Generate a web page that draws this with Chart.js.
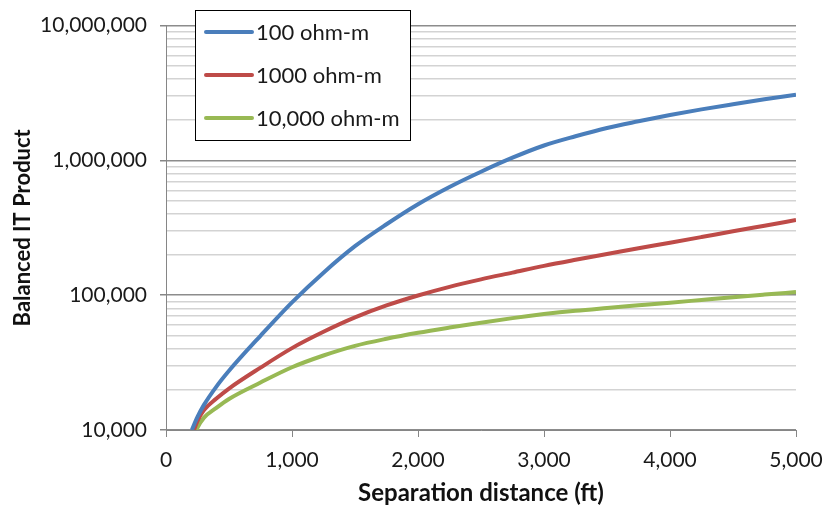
<!DOCTYPE html>
<html>
<head>
<meta charset="utf-8">
<script src="https://cdn.jsdelivr.net/npm/chart.js@4.4.0/dist/chart.umd.min.js"></script>
<style>
  html, body { margin: 0; padding: 0; background: #fff; }
  #wrap { width: 825px; height: 510px; }
</style>
</head>
<body>
<div id="wrap"><canvas id="itChart" width="825" height="510"></canvas></div>
<script>
// Datos (distancia en ft, producto IT)
const distance = [250, 300, 400, 500, 750, 1000, 1250, 1500, 1750, 2000, 2250, 2500, 2750, 3000,
  3250, 3500, 3750, 4000, 4250, 4500, 4750, 5000];

const seriesLabels = ["100 ohm-m", "1000 ohm-m", "10,000 ohm-m"];
const seriesColors = ["#4A7EBB", "#BE4B48", "#98B954"];

// donde cada curva arranca sobre el eje (10,000)
const startDistance = [205, 222, 243];
const startValue = 10000;

const ohm100 = [12500, 15300, 21000, 27500, 50000, 88500, 147000, 231000, 336000, 473000, 635000,
  824000, 1047000, 1290000, 1510000, 1740000, 1950000, 2170000, 2390000, 2610000, 2840000, 3070000];
const ohm1000 = [11700, 14000, 17100, 20300, 29000, 40500, 53500, 68400, 83900, 99500, 115300,
  131000, 147000, 165000, 183000, 202000, 223000, 245000, 270000, 298000, 328000, 361000];
const ohm10000 = [10400, 12300, 14600, 17000, 22500, 29200, 35700, 42100, 47500, 52600, 57500,
  62500, 67600, 72400, 76700, 80400, 84100, 88000, 92200, 96600, 101000, 105500];

const xTicks = [0, 1000, 2000, 3000, 4000, 5000];
const yDecades = [10000, 100000, 1000000, 10000000];

const fontFamily = "Lato, 'Open Sans', sans-serif";

// arma los puntos {x, y} de una serie
const buildPoints = (values, idx) => {
  const pts = [{ x: startDistance[idx], y: startValue }];
  distance.forEach((d, i) => pts.push({ x: d, y: values[i] }));
  return pts;
};

// leyenda dentro del área del gráfico, con marco negro
const boxLegend = {
  id: "boxLegend",
  afterDraw(chart) {
    const ctx = chart.ctx;
    const left = 195, top = 10, w = 215, h = 130;
    ctx.save();
    ctx.fillStyle = "#fff";
    ctx.fillRect(left, top, w, h);
    ctx.strokeStyle = "#000";
    ctx.lineWidth = 1;
    ctx.strokeRect(left + 0.5, top + 0.5, w, h);
    ctx.font = "22px " + fontFamily;
    ctx.textBaseline = "middle";
    chart.data.datasets.forEach((ds, i) => {
      const y = 32 + i * 43;
      ctx.strokeStyle = ds.borderColor;
      ctx.lineWidth = 4;
      ctx.lineCap = "round";
      ctx.beginPath();
      ctx.moveTo(206, y);
      ctx.lineTo(252, y);
      ctx.stroke();
      ctx.fillStyle = "#1a1a1a";
      ctx.fillText(ds.label, 256, y + 1);
    });
    ctx.restore();
  },
};

const datasets = [ohm100, ohm1000, ohm10000].map((vals, i) => ({
  label: seriesLabels[i],
  data: buildPoints(vals, i),
  borderColor: seriesColors[i],
  backgroundColor: seriesColors[i],
  borderWidth: 4,
  pointRadius: 0,
  fill: false,
  cubicInterpolationMode: "monotone",
}));

const isMajor = (c) => c.tick && yDecades.includes(c.tick.value);

const ctx = document.querySelector("#itChart").getContext("2d");
new Chart(ctx, {
  type: "line",
  data: { datasets },
  options: {
    responsive: false,
    animation: false,
    layout: { padding: { top: 22, right: 29, left: 10, bottom: 2 } },
    plugins: {
      legend: { display: false },
      tooltip: { enabled: false },
    },
    scales: {
      x: {
        type: "linear",
        min: 0,
        max: 5000,
        afterBuildTicks: (scale) => {
          scale.ticks = xTicks.map((v) => ({ value: v }));
        },
        afterFit: (scale) => {
          scale.height = 78;
          // el último rótulo puede salir del área; el padding lo maneja el layout
          scale.paddingLeft = 0;
          scale.paddingRight = 0;
        },
        grid: {
          drawOnChartArea: false,
          drawTicks: true,
          tickLength: 7,
          tickColor: "#868686",
        },
        border: { color: "#868686", width: 1 },
        ticks: {
          padding: 11,
          color: "#1a1a1a",
          font: { family: fontFamily, size: 21 },
          callback: (v) => v.toLocaleString("en-US"),
        },
        title: {
          display: true,
          text: "Separation distance (ft)",
          color: "#111",
          font: { family: fontFamily, size: 24, weight: "bold" },
          padding: { top: 4, bottom: 0 },
        },
      },
      y: {
        type: "logarithmic",
        min: 10000,
        max: 10000000,
        afterBuildTicks: (scale) => {
          const ticks = [];
          yDecades.forEach((d, i) => {
            if (i === yDecades.length - 1) {
              ticks.push({ value: d, major: true });
              return;
            }
            for (let m = 1; m < 10; m++) ticks.push({ value: m * d, major: m === 1 });
          });
          scale.ticks = ticks;
        },
        afterFit: (scale) => {
          scale.width = 156;
        },
        grid: {
          color: (c) => (isMajor(c) ? "#8c8c8c" : "#d3d3d3"),
          lineWidth: 1.5,
          drawTicks: true,
          tickLength: 6,
          tickColor: (c) => (isMajor(c) ? "#868686" : "rgba(0,0,0,0)"),
        },
        border: { color: "#868686", width: 1 },
        ticks: {
          autoSkip: false,
          padding: 13,
          color: "#1a1a1a",
          font: { family: fontFamily, size: 21 },
          callback: (v) => (yDecades.includes(v) ? v.toLocaleString("en-US") : ""),
        },
        title: {
          display: true,
          text: "Balanced IT Product",
          color: "#111",
          font: { family: fontFamily, size: 22, weight: "bold" },
          padding: { top: 0, bottom: 4 },
        },
      },
    },
  },
  plugins: [boxLegend],
});
</script>
</body>
</html>
